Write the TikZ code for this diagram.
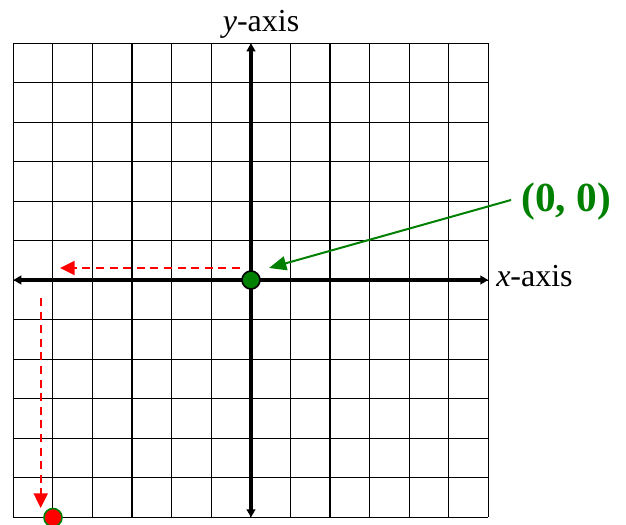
\documentclass[tikz,border=0pt]{standalone}
\usepackage{fontspec}
\setmainfont{Liberation Serif}
\usetikzlibrary{arrows.meta}
\definecolor{dkgreen}{RGB}{0,128,0}
\definecolor{ptred}{RGB}{255,0,0}
\begin{document}
\begin{tikzpicture}[x=0.75pt,y=-0.75pt,
  gridline/.style={draw=black,line width=0.9pt},
  axisline/.style={line width=2.6pt,{Triangle[length=6pt,width=6.5pt]}-{Triangle[length=6pt,width=6.5pt]}},
  lbl/.style={font=\fontsize{24}{28}\selectfont,inner sep=0pt},
  greenlbl/.style={font=\fontsize{31}{36}\selectfont\bfseries,text=dkgreen,inner sep=0pt},
  pointer/.style={draw=dkgreen,line width=1.5pt,-{Triangle[length=13pt,width=10.5pt]}},
  redpath/.style={draw=ptred,line width=1.5pt,dash pattern=on 6pt off 4.2pt,-{Triangle[length=11pt,width=10.5pt]}},
  dot/.style={circle,minimum size=13.5pt,inner sep=0pt,line width=1.2pt}]
\useasboundingbox (0,0) rectangle (626,525);
% grid
\foreach \i in {0,...,12} {
  \draw[gridline] ({13.3+39.58*\i},43.3) -- ({13.3+39.58*\i},517.3);
  \draw[gridline] (13.3,{43.3+39.5*\i}) -- (488.3,{43.3+39.5*\i});
}
% axes
\coordinate (xl) at (13.3,280);
\coordinate (xr) at (488.3,280);
\coordinate (yt) at (251,43.3);
\coordinate (yb) at (251,517.3);
\coordinate (o) at (251,280);
\draw[axisline] (xl) -- (xr);
\draw[axisline] (yb) -- (yt);
% labels
\node[lbl,anchor=base west] (xlab) at (496,286) {\textit{x}-axis};
\node[lbl,anchor=base] (ylab) at (261,31.5) {\textit{y}-axis};
\node[greenlbl,anchor=base west] (olab) at (521,211) {(0, 0)};
% red dashed paths
\coordinate (r1s) at (240,268);
\coordinate (r1e) at (60,268);
\coordinate (r2s) at (40.7,298);
\coordinate (r2e) at (40.7,508);
\draw[redpath] (r1s) -- (r1e);
\draw[redpath] (r2s) -- (r2e);
% green pointer
\coordinate (gs) at (511,200);
\coordinate (ge) at (269,268);
\draw[pointer] (gs) -- (ge);
% dots
\node[dot,fill=dkgreen,draw=black] (odot) at (o) {};
\node[dot,fill=ptred,draw=dkgreen] (pdot) at (53,517.5) {};
\end{tikzpicture}
\end{document}
